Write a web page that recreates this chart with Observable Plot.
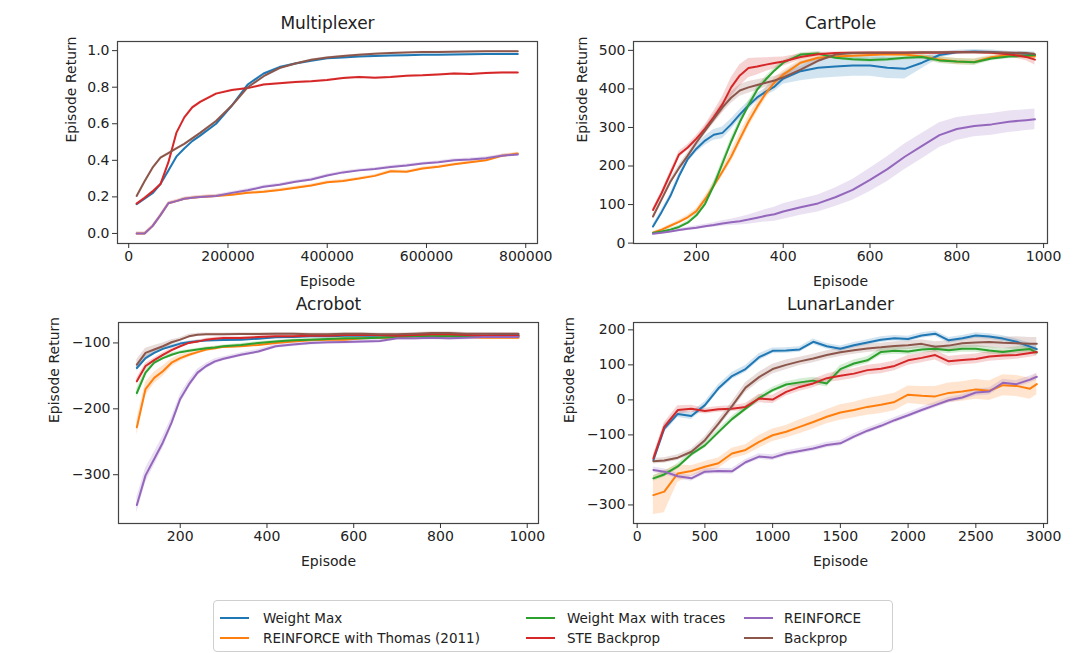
<!DOCTYPE html>
<html><head><meta charset="utf-8">
<script src="https://cdn.jsdelivr.net/npm/d3@7"></script>
<script src="https://cdn.jsdelivr.net/npm/@observablehq/plot@0.6"></script>
<style>
body{margin:0;background:#fff;}
#chart{position:relative;width:1088px;height:653px;overflow:hidden;font-family:"DejaVu Sans",sans-serif;color:#222;background:#fff;}
.panel{position:absolute;}
#legend{position:absolute;left:213px;top:600px;width:680px;height:52px;border:1px solid #cfcfcf;border-radius:4px;box-sizing:border-box;font-family:"DejaVu Sans",sans-serif;font-size:13.5px;color:#222;}
.lg-line{position:absolute;height:2px;width:29px;}
.lg-text{position:absolute;line-height:16px;white-space:nowrap;}
</style></head>
<body><div id="chart"></div>
<script>
// ---------- series ----------
const seriesNames = ["Weight Max", "REINFORCE with Thomas (2011)", "Weight Max with traces", "STE Backprop", "REINFORCE", "Backprop"];
const seriesColors = ["#1f77b4", "#ff7f0e", "#2ca02c", "#d62728", "#9467bd", "#8c564b"];

// ---------- Multiplexer ----------
const mpEpisodes = [16000, 32000, 48000, 64000, 80000, 96000, 112000, 128000, 144000, 176000, 208000, 240000, 272000, 304000, 336000, 368000, 400000, 432000, 464000, 496000, 528000, 560000, 592000, 624000, 656000, 688000, 720000, 752000, 784000];
const mpWeightMax = [0.16, 0.19, 0.22, 0.27, 0.345, 0.42, 0.465, 0.505, 0.535, 0.60, 0.70, 0.815, 0.875, 0.91, 0.93, 0.945, 0.958, 0.962, 0.968, 0.971, 0.973, 0.975, 0.977, 0.978, 0.979, 0.98, 0.981, 0.981, 0.981];
const mpThomas = [0.0, 0.0, 0.04, 0.10, 0.165, 0.177, 0.19, 0.195, 0.20, 0.205, 0.212, 0.222, 0.228, 0.238, 0.25, 0.262, 0.28, 0.287, 0.30, 0.315, 0.34, 0.337, 0.355, 0.365, 0.378, 0.39, 0.40, 0.425, 0.437];
const mpSTE = [0.163, 0.195, 0.23, 0.27, 0.39, 0.55, 0.635, 0.69, 0.72, 0.765, 0.785, 0.795, 0.815, 0.822, 0.828, 0.833, 0.84, 0.85, 0.856, 0.852, 0.856, 0.862, 0.865, 0.87, 0.875, 0.872, 0.878, 0.88, 0.88];
const mpReinforce = [0.0, 0.0, 0.04, 0.10, 0.165, 0.177, 0.19, 0.195, 0.20, 0.205, 0.222, 0.236, 0.255, 0.266, 0.283, 0.295, 0.317, 0.334, 0.345, 0.352, 0.364, 0.372, 0.382, 0.39, 0.40, 0.405, 0.412, 0.425, 0.432];
const mpBackprop = [0.205, 0.285, 0.36, 0.415, 0.44, 0.465, 0.49, 0.52, 0.55, 0.615, 0.70, 0.80, 0.86, 0.905, 0.93, 0.95, 0.962, 0.971, 0.978, 0.983, 0.987, 0.99, 0.992, 0.993, 0.994, 0.995, 0.996, 0.997, 0.997];
const mpBandWidth = [0.004, 0.008, 0, 0.004, 0.008, 0.004];

// ---------- CartPole ----------
const cpEpisodes = [100, 120, 140, 160, 180, 200, 220, 240, 260, 280, 300, 320, 340, 360, 380, 400, 440, 480, 520, 560, 600, 640, 680, 720, 760, 800, 840, 880, 920, 960, 980];
const cpWeightMax = [43, 81, 122, 174, 218, 245, 266, 281, 286, 308, 334, 357, 378, 393, 406, 427, 446, 455, 458, 461, 461, 455, 452, 468, 488, 495, 497, 496, 492, 490, 488];
const cpThomas = [27, 35, 45, 55, 67, 83, 114, 149, 186, 224, 270, 315, 354, 389, 417, 437, 468, 481, 484, 486, 488, 490, 489, 484, 476, 471, 470, 482, 488, 486, 484];
const cpTraces = [26, 30, 35, 42, 53, 72, 102, 150, 207, 263, 314, 358, 398, 425, 448, 468, 489, 492, 481, 477, 475, 477, 481, 483, 474, 471, 469, 479, 484, 486, 488];
const cpSTE = [86, 130, 180, 230, 248, 271, 297, 327, 360, 404, 435, 454, 458, 463, 467, 471, 483, 490, 493, 494, 494, 494, 494, 494, 494, 495, 495, 494, 490, 483, 476];
const cpReinforce = [24, 27, 30, 34, 37, 40, 44, 47, 51, 54, 57, 61, 66, 71, 75, 82, 93, 103, 119, 138, 164, 192, 224, 252, 280, 296, 304, 308, 315, 319, 321];
const cpBackprop = [69, 114, 159, 195, 227, 261, 292, 322, 352, 377, 396, 404, 410, 416, 422, 430, 450, 473, 489, 493, 494, 494, 494, 495, 495, 495, 495, 495, 494, 493, 490];
const cpWeightMaxBand = [5, 6, 7, 8, 9, 10, 12, 14, 15, 14, 12, 11, 10, 10, 12, 15, 25, 28, 28, 28, 28, 28, 26, 15, 8, 5, 5, 5, 6, 7, 8];
const cpThomasBand = [3, 3, 4, 5, 6, 7, 8, 10, 12, 14, 15, 15, 15, 14, 12, 10, 8, 6, 5, 5, 5, 5, 5, 6, 8, 8, 8, 6, 6, 8, 10];
const cpTracesBand = [3, 3, 4, 4, 5, 6, 8, 10, 10, 10, 10, 10, 8, 8, 7, 6, 5, 5, 5, 5, 6, 6, 6, 6, 8, 8, 8, 6, 6, 6, 6];
const cpSTEBand = [5, 6, 7, 8, 8, 8, 10, 15, 20, 25, 28, 25, 22, 18, 15, 12, 8, 5, 3, 3, 3, 3, 3, 3, 3, 3, 3, 4, 6, 10, 14];
const cpReinforceBand = [3, 3, 3, 4, 4, 5, 5, 6, 7, 8, 10, 12, 14, 16, 18, 20, 21, 22, 24, 27, 30, 32, 33, 33, 32, 30, 28, 28, 28, 27, 27];
const cpBackpropBand = [5, 6, 7, 8, 8, 9, 10, 12, 14, 15, 15, 15, 14, 12, 10, 10, 8, 6, 4, 3, 3, 3, 3, 3, 3, 3, 3, 3, 3, 3, 3];

// ---------- Acrobot ----------
const acEpisodes = [100, 120, 140, 160, 180, 200, 220, 240, 260, 280, 300, 340, 380, 420, 460, 500, 540, 580, 620, 660, 700, 740, 780, 820, 860, 900, 940, 980];
const acWeightMax = [-138, -123, -115, -109, -105, -101, -99, -97.5, -96.5, -96, -95.5, -95, -93.5, -91.5, -91, -90, -90, -89, -89, -89, -89, -89, -88, -88, -89, -89, -88, -88];
const acThomas = [-228, -170, -153, -143, -130, -123, -118, -114, -110, -108, -106, -105, -103, -100, -98, -96, -95, -95, -93, -92, -92, -90, -90, -90, -91, -92, -92, -92];
const acTraces = [-176, -145, -130, -123, -118, -114, -112, -110, -108, -107, -105, -103, -100, -98, -96, -95, -94, -93, -93, -92, -91, -90, -90, -90, -90, -90, -90, -90];
const acSTE = [-158, -135, -126, -118, -111, -105, -100, -98, -95, -93.5, -92.5, -92.5, -91, -90, -90, -89, -89, -88, -88, -88, -89, -88, -87, -87, -88, -89, -89, -89];
const acReinforce = [-346, -301, -276, -251, -221, -185, -163, -145, -135, -128, -124, -118, -113, -105, -102.5, -100, -99, -98.5, -98, -97, -93, -93, -92, -93, -92, -91, -91, -91];
const acBackprop = [-133, -115, -110, -105, -99, -95, -90, -87.5, -87, -87, -87, -86.5, -86.5, -86, -86, -87, -87, -86, -86, -87, -87, -86, -85, -85, -86, -86, -86, -86];
const acWeightMaxBand = [5, 4, 3, 3, 2, 2, 2, 2, 2, 2, 2, 2, 2, 2, 2, 2, 2, 2, 2, 2, 2, 2, 2, 2, 2, 2, 2, 2];
const acThomasBand = [12, 10, 9, 8, 6, 5, 4, 3, 3, 3, 2, 2, 2, 2, 2, 2, 2, 2, 2, 2, 2, 2, 2, 2, 2, 2, 2, 3];
const acTracesBand = [7, 5, 4, 3, 3, 2, 2, 2, 2, 2, 2, 2, 2, 2, 2, 2, 2, 2, 2, 2, 2, 2, 2, 2, 2, 2, 2, 2];
const acSTEBand = [5, 4, 3, 3, 3, 2, 2, 2, 2, 2, 2, 2, 2, 2, 2, 2, 2, 2, 2, 2, 2, 2, 2, 2, 2, 2, 2, 2];
const acReinforceBand = [12, 11, 10, 9, 8, 7, 6, 5, 4, 4, 3, 3, 3, 3, 3, 3, 3, 3, 3, 3, 3, 3, 3, 3, 3, 3, 3, 3];
const acBackpropBand = [8, 7, 6, 5, 4, 3, 3, 2, 2, 2, 2, 2, 2, 2, 2, 2, 2, 2, 2, 2, 2, 2, 2, 2, 2, 2, 2, 2];

// ---------- LunarLander ----------
const llEpisodes = [120, 200, 300, 400, 500, 600, 700, 800, 900, 1000, 1100, 1200, 1300, 1400, 1500, 1600, 1700, 1800, 1900, 2000, 2100, 2200, 2300, 2400, 2500, 2600, 2700, 2800, 2900, 2950];
const llWeightMax = [-172, -82, -40, -46, -15, 33, 68, 88, 122, 140, 141, 144, 166, 153, 146, 156, 164, 172, 176, 174, 184, 189, 170, 176, 184, 181, 175, 166, 152, 145];
const llThomas = [-272, -262, -210, -203, -191, -181, -153, -143, -120, -101, -91, -77, -63, -48, -36, -29, -20, -14, -6, 15, 12, 10, 20, 24, 30, 26, 42, 40, 32, 45];
const llTraces = [-224, -213, -190, -155, -130, -92, -55, -25, 5, 28, 44, 50, 55, 47, 88, 104, 113, 137, 140, 138, 144, 146, 142, 146, 146, 141, 137, 142, 145, 135];
const llSTE = [-167, -77, -29, -25, -32, -27, -25, -20, 4, 1, 23, 37, 47, 62, 69, 75, 85, 89, 97, 113, 120, 128, 110, 114, 117, 124, 127, 128, 134, 137];
const llReinforce = [-200, -205, -218, -224, -205, -203, -204, -178, -162, -165, -153, -146, -139, -129, -124, -105, -88, -74, -58, -44, -29, -15, -1, 7, 21, 24, 49, 45, 58, 66];
const llBackprop = [-175, -173, -165, -148, -115, -68, -18, 35, 65, 88, 100, 110, 118, 128, 136, 142, 147, 150, 154, 156, 160, 152, 155, 162, 164, 165, 163, 162, 160, 160];
const llWeightMaxBand = [10, 12, 10, 10, 10, 10, 10, 10, 10, 8, 8, 8, 8, 8, 8, 8, 8, 8, 8, 8, 8, 8, 8, 8, 8, 8, 8, 8, 10, 10];
const llThomasBand = [55, 60, 25, 15, 15, 15, 15, 15, 18, 18, 18, 20, 20, 20, 22, 22, 24, 25, 25, 25, 26, 28, 28, 28, 28, 28, 30, 30, 30, 30];
const llTracesBand = [8, 8, 8, 8, 8, 8, 8, 8, 8, 8, 8, 10, 10, 10, 10, 10, 10, 10, 10, 10, 10, 10, 10, 10, 10, 10, 10, 10, 10, 10];
const llSTEBand = [10, 12, 12, 10, 8, 8, 8, 10, 12, 12, 12, 12, 12, 12, 14, 14, 14, 14, 14, 14, 14, 14, 14, 14, 14, 14, 14, 12, 12, 12];
const llReinforceBand = [8, 8, 8, 8, 8, 8, 8, 8, 8, 8, 8, 8, 8, 8, 8, 8, 8, 8, 8, 8, 8, 8, 8, 8, 10, 10, 10, 10, 10, 10];
const llBackpropBand = [8, 8, 8, 8, 10, 12, 12, 14, 14, 14, 14, 12, 12, 12, 12, 12, 12, 12, 12, 12, 12, 14, 14, 14, 14, 16, 16, 18, 18, 18];

// ---------- tick labels ----------
const mpXTicks = [0, 200000, 400000, 600000, 800000];
const mpYTicks = [0.0, 0.2, 0.4, 0.6, 0.8, 1.0];
const cpXTicks = [200, 400, 600, 800, 1000];
const cpYTicks = [0, 100, 200, 300, 400, 500];
const acXTicks = [200, 400, 600, 800, 1000];
const acYTicks = [-100, -200, -300];
const llXTicks = [0, 500, 1000, 1500, 2000, 2500, 3000];
const llYTicks = [-300, -200, -100, 0, 100, 200];

function buildRows(xs, means, bands) {
  const out = [];
  seriesNames.forEach((name, i) => {
    const m = means[i];
    if (!m) return;
    xs.forEach((x, j) => {
      const b = Array.isArray(bands[i]) ? bands[i][j] : bands[i];
      out.push({name, x, y: m[j], lo: m[j] - b, hi: m[j] + b});
    });
  });
  return out;
}

function panel(o) {
  const data = buildRows(o.xs, o.means, o.bands);
  const svg = Plot.plot({
    width: o.width, height: o.height,
    marginLeft: o.ml, marginRight: o.mr, marginTop: o.mt, marginBottom: o.mb,
    style: {background: "transparent", overflow: "visible", fontFamily: "DejaVu Sans, sans-serif", fontSize: "14px", color: "#222"},
    x: {domain: o.xDomain},
    y: {domain: o.yDomain},
    color: {domain: seriesNames, range: seriesColors},
    marks: [
      Plot.areaY(data, {x: "x", y1: "lo", y2: "hi", z: "name", fill: "name", fillOpacity: 0.2, clip: true}),
      Plot.lineY(data, {x: "x", y: "y", z: "name", stroke: "name", strokeWidth: 2, clip: true}),
      Plot.frame({stroke: "#444", strokeWidth: 1.2}),
      Plot.axisX({ticks: o.xTicks, tickFormat: o.xFmt, tickSize: 5, tickPadding: 3, label: null, fontSize: 14, stroke: "#333"}),
      Plot.axisY({ticks: o.yTicks, tickFormat: o.yFmt, tickSize: 5, tickPadding: 3, label: null, fontSize: 14, stroke: "#333"}),
      Plot.text([o.title], {text: d => d, frameAnchor: "top", dy: -18, fontSize: 17, lineAnchor: "middle", fill: "#222"}),
      Plot.text(["Episode"], {text: d => d, frameAnchor: "bottom", dy: 38, fontSize: 14, lineAnchor: "middle", fill: "#222"}),
      Plot.text(["Episode Return"], {text: d => d, frameAnchor: "left", dx: o.yLabelDx, rotate: -90, fontSize: 14, lineAnchor: "middle", fill: "#222"})
    ]
  });
  svg.classList.add("panel");
  svg.style.left = o.left + "px";
  svg.style.top = o.top + "px";
  return svg;
}

const chart = document.getElementById("chart");
const fmtD = d3.format("d");

chart.appendChild(panel({
  title: "Multiplexer", xs: mpEpisodes,
  means: [mpWeightMax, mpThomas, null, mpSTE, mpReinforce, mpBackprop],
  bands: mpBandWidth,
  left: 0, top: 0, width: 544, height: 290, ml: 117, mr: 7, mt: 41, mb: 47,
  xDomain: [-22600, 823700], yDomain: [-0.055, 1.05],
  xTicks: mpXTicks, yTicks: mpYTicks, xFmt: fmtD, yFmt: d3.format(".1f"), yLabelDx: -46
}));

chart.appendChild(panel({
  title: "CartPole", xs: cpEpisodes,
  means: [cpWeightMax, cpThomas, cpTraces, cpSTE, cpReinforce, cpBackprop],
  bands: [cpWeightMaxBand, cpThomasBand, cpTracesBand, cpSTEBand, cpReinforceBand, cpBackpropBand],
  left: 544, top: 0, width: 544, height: 290, ml: 89, mr: 41, mt: 41, mb: 47,
  xDomain: [55, 1009], yDomain: [-1, 523],
  xTicks: cpXTicks, yTicks: cpYTicks, xFmt: fmtD, yFmt: fmtD, yLabelDx: -51
}));

chart.appendChild(panel({
  title: "Acrobot", xs: acEpisodes,
  means: [acWeightMax, acThomas, acTraces, acSTE, acReinforce, acBackprop],
  bands: [acWeightMaxBand, acThomasBand, acTracesBand, acSTEBand, acReinforceBand, acBackpropBand],
  left: 0, top: 290, width: 544, height: 300, ml: 118, mr: 6, mt: 32, mb: 67,
  xDomain: [57.7, 1026], yDomain: [-374, -69],
  xTicks: acXTicks, yTicks: acYTicks, xFmt: fmtD, yFmt: fmtD, yLabelDx: -64
}));

chart.appendChild(panel({
  title: "LunarLander", xs: llEpisodes,
  means: [llWeightMax, llThomas, llTraces, llSTE, llReinforce, llBackprop],
  bands: [llWeightMaxBand, llThomasBand, llTracesBand, llSTEBand, llReinforceBand, llBackpropBand],
  left: 544, top: 290, width: 544, height: 300, ml: 89, mr: 41, mt: 32, mb: 67,
  xDomain: [-27, 3029], yDomain: [-353, 221],
  xTicks: llXTicks, yTicks: llYTicks, xFmt: fmtD, yFmt: fmtD, yLabelDx: -64
}));

// ---------- legend ----------
const legend = document.createElement("div");
legend.id = "legend";
const legendOrder = [0, 1, 2, 3, 4, 5];
const colX = [[6, 49], [312, 353], [530, 570]];
const rowY = [17, 37];
legendOrder.forEach((si, k) => {
  const col = Math.floor(k / 2), row = k % 2;
  const line = document.createElement("div");
  line.className = "lg-line";
  line.style.background = seriesColors[si];
  line.style.left = colX[col][0] + "px";
  line.style.top = (rowY[row] - 1) + "px";
  legend.appendChild(line);
  const t = document.createElement("div");
  t.className = "lg-text";
  t.textContent = seriesNames[si];
  t.style.left = colX[col][1] + "px";
  t.style.top = (rowY[row] - 8) + "px";
  legend.appendChild(t);
});
chart.appendChild(legend);
</script></body></html>
